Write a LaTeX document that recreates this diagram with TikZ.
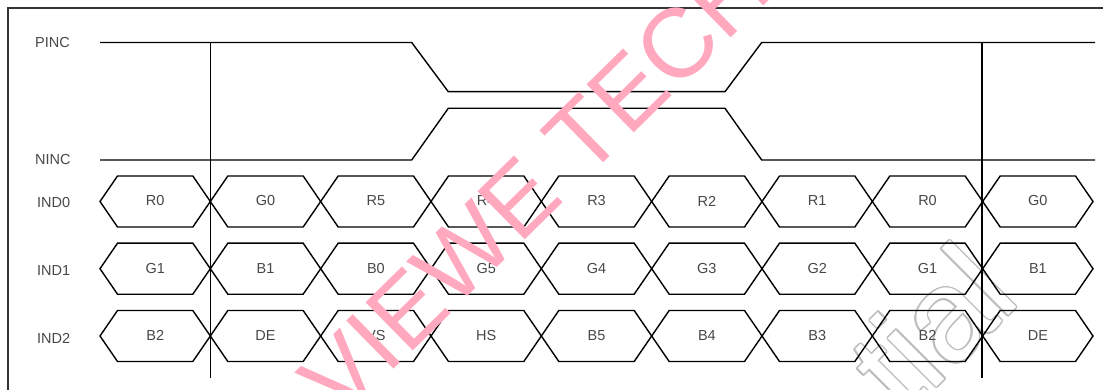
\documentclass[tikz,border=0pt]{standalone}
\usepackage{fontspec}
\setmainfont{Liberation Sans}
\usepackage[copies]{contour}
\definecolor{wmpink}{RGB}{255,168,190}
\definecolor{wmgray}{RGB}{190,190,190}
\begin{document}
\begin{tikzpicture}[x=1pt,y=-1pt,line join=miter,
  wave/.style={line width=1.4pt,black},
  frameline/.style={line width=1.4pt,black!80},
  marker/.style={line width=1.2pt,black},
  siglabel/.style={anchor=west,inner sep=0pt,font=\fontsize{14.5}{16}\selectfont,text=black!72},
  celllabel/.style={inner sep=0pt,font=\fontsize{14.5}{16}\selectfont,text=black!72},
  pinkmark/.style={anchor=base west,inner sep=0pt,rotate=44.5,text=wmpink,font=\fontsize{98}{100}\selectfont},
  graymark/.style={anchor=base west,inner sep=0pt,rotate=45,font=\fontsize{130}{130}\selectfont}]
\useasboundingbox (0,0) rectangle (1103,390);

% grey outlined watermark (underneath)
\begin{scope}
  \clip (0,0) rectangle (1103,390);
  \contourlength{1.5pt}
  \node[graymark] (wmgray) at (905,419) {\contour{wmgray}{\textcolor{white}{tial}}};
\end{scope}

% frame
\draw[frameline] (8,390) -- (8,8) -- (1103,8);

% signal names
\node[siglabel] (pinc) at (35,42.5) {PINC};
\node[siglabel] (ninc) at (35,160) {NINC};
\node[siglabel] (ind0) at (37,203) {IND0};
\node[siglabel] (ind1) at (37,271) {IND1};
\node[siglabel] (ind2) at (37,338) {IND2};

% differential clock
\draw[wave] (100,42.5) -- (411.7,42.5) -- (448.3,91.7) -- (725,91.7) -- (761.7,42.5) -- (1095,42.5);
\draw[wave] (100,160) -- (411.7,160) -- (448.3,108.3) -- (725,108.3) -- (761.7,160) -- (1095,160);

% bus rows
\foreach \c in {201.5,268.7,336} {
  \foreach \i in {0,...,8} {
    \pgfmathsetmacro\xl{100+\i*110.333}
    \pgfmathsetmacro\xr{100+(\i+1)*110.333}
    \draw[wave] (\xl,\c) -- (\xl+17.5,\c-25.5) -- (\xr-17.5,\c-25.5) -- (\xr,\c)
      -- (\xr-17.5,\c+25.5) -- (\xl+17.5,\c+25.5) -- cycle;
  }
}
\foreach \lab [count=\i from 0] in {R0,G0,R5,R4,R3,R2,R1,R0,G0}
  \node[celllabel] (a\i) at (155.2+\i*110.333,201) {\lab};
\foreach \lab [count=\i from 0] in {G1,B1,B0,G5,G4,G3,G2,G1,B1}
  \node[celllabel] (b\i) at (155.2+\i*110.333,268.2) {\lab};
\foreach \lab [count=\i from 0] in {B2,DE,VS,HS,B5,B4,B3,B2,DE}
  \node[celllabel] (c\i) at (155.2+\i*110.333,335.5) {\lab};

% cycle markers
\coordinate (m1t) at (210.3,42.5);
\coordinate (m1b) at (210.3,378);
\coordinate (m2t) at (982,42.5);
\coordinate (m2b) at (982,378);
\draw[marker] (m1t) -- (m1b);
\draw[marker] (m2t) -- (m2b);

% pink watermark (on top)
\begin{scope}
  \clip (0,0) rectangle (1103,390);
  \node[pinkmark] (wmpink) at (341,421.4) {VIEWE TECHN};
\end{scope}
\end{tikzpicture}
\end{document}
